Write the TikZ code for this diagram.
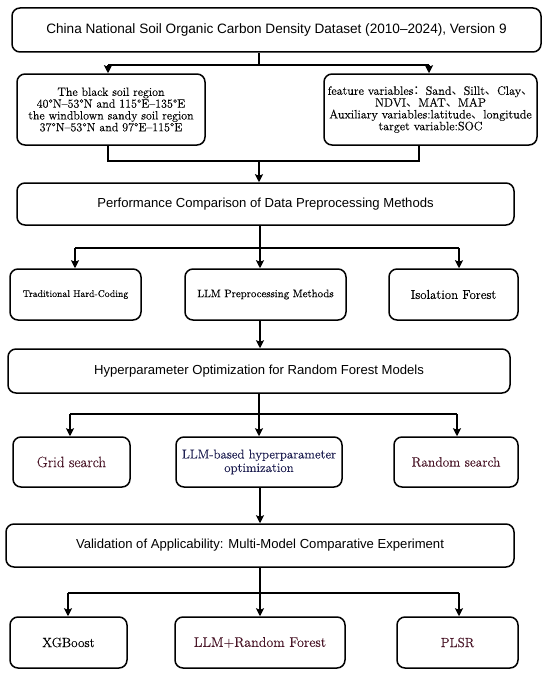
\documentclass[tikz,border=0pt]{standalone}
\usepackage{fontspec}
\setmainfont{Latin Modern Roman}[FakeBold=0.2]
\newfontfamily\sansf[Ligatures=TeX]{Liberation Sans}
\newfontfamily\cjk{Noto Sans CJK SC}
\usetikzlibrary{arrows.meta}
\definecolor{maroon}{HTML}{4A1628}
\definecolor{navy}{HTML}{1F2052}
\begin{document}
\begin{tikzpicture}[x=1pt,y=-1pt,
  box/.style={draw=black, line width=1.5pt, rounded corners=8pt, align=center, inner sep=1pt},
  bigbox/.style={box, font=\sansf\fontsize{13.1}{15}\selectfont},
  smallbox/.style={box, font=\fontsize{13}{14}\selectfont},
  conn/.style={line width=1.6pt},
  arr/.style={conn, -{Stealth[length=8pt,width=8pt,inset=1.5pt]}}]
\useasboundingbox (0,0) rectangle (550,677);
% nodes
\node[bigbox, minimum width=529pt, minimum height=44pt, font=\sansf\fontsize{13.6}{15}\selectfont] (top) at (276.5,30) {China National Soil Organic Carbon Density Dataset (2010–2024), Version 9};
\node[box, minimum width=188pt, minimum height=71pt, font=\fontsize{12}{11.8}\selectfont] (black) at (111,109.5) {The black soil region\\40°N–53°N and 115°E–135°E\\the windblown sandy soil region\\37°N–53°N and 97°E–115°E};
\node[box, minimum width=213pt, minimum height=71pt, font=\fontsize{12.2}{11.8}\selectfont] (feat) at (430.5,109.5) {feature variables{\cjk ：}Sand{\cjk 、}Sillt{\cjk 、}Clay{\cjk 、}\\NDVI{\cjk 、}MAT{\cjk 、}MAP\\Auxiliary variables:latitude{\cjk 、}longitude\\target variable:SOC};
\node[bigbox, minimum width=497pt, minimum height=42pt] (perf) at (265.5,204) {Performance Comparison of Data Preprocessing Methods};
\node[box, minimum width=131pt, minimum height=51pt, font=\fontsize{9.7}{11}\selectfont] (trad) at (75.5,294.5) {Traditional Hard-Coding};
\node[smallbox, minimum width=161pt, minimum height=51pt, font=\fontsize{10.8}{13}\selectfont] (llmpre) at (265.5,294.5) {LLM Preprocessing Methods};
\node[smallbox, minimum width=129pt, minimum height=51pt, font=\fontsize{12.9}{14}\selectfont] (iso) at (453.5,294.5) {Isolation Forest};
\node[bigbox, minimum width=502pt, minimum height=44pt] (hyper) at (259,371) {Hyperparameter Optimization for Random Forest Models};
\node[smallbox, minimum width=117pt, minimum height=50pt, text=maroon, font=\fontsize{15}{15}\selectfont] (grid) at (71.5,462) {Grid search};
\node[smallbox, minimum width=166pt, minimum height=50pt, text=navy, font=\fontsize{12.9}{13.5}\selectfont] (llmhp) at (259,462) {LLM-based hyperparameter\\optimization};
\node[smallbox, minimum width=124pt, minimum height=50pt, text=maroon, font=\fontsize{13.5}{14}\selectfont] (rand) at (456,462) {Random search};
\node[bigbox, minimum width=508pt, minimum height=43pt] (valid) at (260,545.5) {Validation of Applicability: Multi-Model Comparative Experiment};
\node[smallbox, minimum width=117pt, minimum height=51pt, font=\fontsize{13.3}{14}\selectfont] (xgb) at (68.5,642.5) {XGBoost};
\node[smallbox, minimum width=170pt, minimum height=51pt, text=maroon, font=\fontsize{14}{15}\selectfont] (llmrf) at (260,642.5) {LLM+Random Forest};
\node[smallbox, minimum width=121pt, minimum height=51pt, text=maroon, font=\fontsize{13.2}{14}\selectfont] (plsr) at (457.5,642.5) {PLSR};
% junctions
\coordinate (j1) at (259,65);
\coordinate (j1l) at (108,65);
\coordinate (j1r) at (429,65);
\coordinate (j2) at (259,161);
\coordinate (j2l) at (108,161);
\coordinate (j2r) at (419,161);
\coordinate (j3) at (260,248);
\coordinate (j3l) at (75,248);
\coordinate (j3r) at (459,248);
\coordinate (j4) at (259,414);
\coordinate (j4l) at (70,414);
\coordinate (j4r) at (457,414);
\coordinate (j5) at (260,593);
\coordinate (j5l) at (68,593);
\coordinate (j5r) at (459,593);
% connectors
\draw[conn] (j1 |- top.south) -- (j1);
\draw[conn] (j1l) -- (j1r);
\draw[arr] (j1l) -- (j1l |- black.north);
\draw[arr] (j1r) -- (j1r |- feat.north);
\draw[conn] (j2l |- black.south) -- (j2l) -- (j2r) -- (j2r |- feat.south);
\draw[arr] (j2) -- (j2 |- perf.north);
\draw[conn] (j3 |- perf.south) -- (j3);
\draw[conn] (j3l) -- (j3r);
\draw[arr] (j3l) -- (j3l |- trad.north);
\draw[arr] (j3) -- (j3 |- llmpre.north);
\draw[arr] (j3r) -- (j3r |- iso.north);
\draw[arr] (j3 |- llmpre.south) -- (j3 |- hyper.north);
\draw[conn] (j4 |- hyper.south) -- (j4);
\draw[conn] (j4l) -- (j4r);
\draw[arr] (j4l) -- (j4l |- grid.north);
\draw[arr] (j4) -- (j4 |- llmhp.north);
\draw[arr] (j4r) -- (j4r |- rand.north);
\draw[arr] (j5 |- llmhp.south) -- (j5 |- valid.north);
\draw[conn] (j5 |- valid.south) -- (j5);
\draw[conn] (j5l) -- (j5r);
\draw[arr] (j5l) -- (j5l |- xgb.north);
\draw[arr] (j5) -- (j5 |- llmrf.north);
\draw[arr] (j5r) -- (j5r |- plsr.north);
\end{tikzpicture}
\end{document}
